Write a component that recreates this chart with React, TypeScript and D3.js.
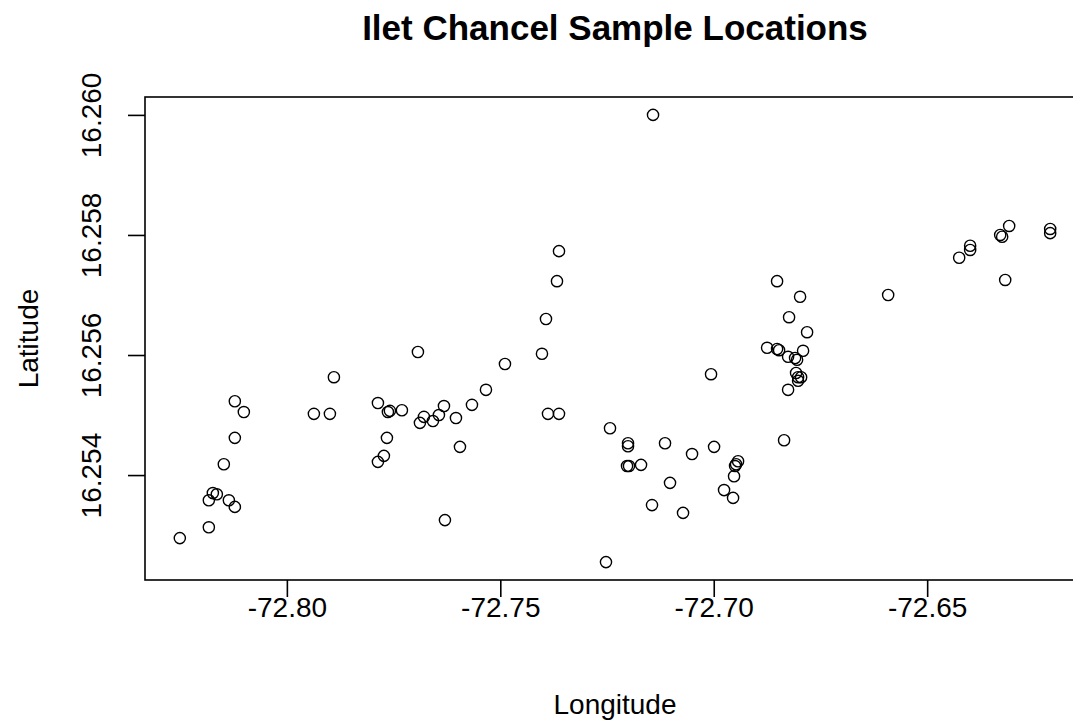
import React, { useEffect, useRef } from "react";
import * as d3 from "d3";

// sample coordinates
const longitude = [
  -72.82508, -72.81828, -72.81828, -72.81734, -72.81641, -72.81359, -72.81219, -72.81477, -72.81219, -72.81219,
  -72.81008, -72.79367, -72.78992, -72.78898, -72.77867, -72.77633, -72.77586, -72.77305, -72.77656, -72.77727,
  -72.77867, -72.7693, -72.76883, -72.76789, -72.76578, -72.76438, -72.7632, -72.76039, -72.75945, -72.75664,
  -72.75336, -72.76297, -72.74891, -72.74024, -72.7393, -72.73672, -72.73625, -72.73883, -72.73625, -72.71422,
  -72.7243, -72.72524, -72.72008, -72.72008, -72.72031, -72.71985, -72.71703, -72.71141, -72.71024, -72.71446,
  -72.70719, -72.70508, -72.69992, -72.69758, -72.69547, -72.69524, -72.695, -72.69477, -72.6943, -72.70063,
  -72.68352, -72.68516, -72.67977, -72.68235, -72.67813, -72.6875, -72.68516, -72.68469, -72.67907, -72.68258,
  -72.68094, -72.68047, -72.68071, -72.68024, -72.67953, -72.68024, -72.68258, -72.65914, -72.6425, -72.63993,
  -72.63993, -72.63289, -72.63243, -72.63079, -72.63172, -72.62118, -72.62118,
];
const latitude = [
  16.25295, 16.25313, 16.25358, 16.2537, 16.25368, 16.25358, 16.25347, 16.25418, 16.25462, 16.25523,
  16.25505, 16.25502, 16.25502, 16.25563, 16.2552, 16.25505, 16.25507, 16.25508, 16.25462, 16.25432,
  16.25422, 16.25605, 16.25487, 16.25497, 16.2549, 16.255, 16.25515, 16.25495, 16.25447, 16.25517,
  16.25542, 16.25325, 16.25585, 16.25602, 16.2566, 16.25723, 16.25773, 16.25502, 16.25502, 16.26,
  16.25478, 16.25255, 16.25453, 16.25448, 16.25415, 16.25415, 16.25417, 16.25453, 16.25387, 16.2535,
  16.25337, 16.25435, 16.25447, 16.25375, 16.25362, 16.25398, 16.25415, 16.25418, 16.25423, 16.25568,
  16.25458, 16.25723, 16.25697, 16.25663, 16.25638, 16.25612, 16.2561, 16.25608, 16.25607, 16.25597,
  16.25595, 16.25592, 16.2557, 16.25563, 16.25563, 16.25557, 16.25542, 16.257, 16.25762, 16.25782,
  16.25775, 16.258, 16.25797, 16.25815, 16.25725, 16.2581, 16.25803,
];

const xTicks = [-72.8, -72.75, -72.7, -72.65];
const yTicks = [16.254, 16.256, 16.258, 16.26];

const title = "Ilet Chancel Sample Locations";
const xTitle = "Longitude";
const yTitle = "Latitude";

const W = 1073;
const H = 724;
const FONT = "'Liberation Sans', Arial, sans-serif";

// R style axis range: data extent padded by 4% each side
const padded = (vals: number[]) => {
  const [lo, hi] = d3.extent(vals) as [number, number];
  const r = hi - lo;
  return [lo - 0.04 * r, hi + 0.04 * r];
};

const App = () => {
  const ref = useRef<SVGSVGElement>(null);

  useEffect(() => {
    const svg = d3.select(ref.current);
    svg.selectAll("*").remove();

    const plot = { left: 145, right: 1085, top: 97, bottom: 580 };

    const x = d3.scaleLinear().domain(padded(longitude)).range([plot.left, plot.right]);
    const y = d3.scaleLinear().domain(padded(latitude)).range([plot.bottom, plot.top]);

    const points = longitude.map((lon, i) => ({ lon, lat: latitude[i] }));

    // points
    svg.append("g")
      .selectAll("circle")
      .data(points)
      .enter().append("circle")
      .attr("cx", d => x(d.lon))
      .attr("cy", d => y(d.lat))
      .attr("r", 5.6)
      .attr("fill", "none")
      .attr("stroke", "#000")
      .attr("stroke-width", 1.4);

    // box
    svg.append("rect")
      .attr("x", plot.left)
      .attr("y", plot.top)
      .attr("width", plot.right - plot.left)
      .attr("height", plot.bottom - plot.top)
      .attr("fill", "none")
      .attr("stroke", "#000")
      .attr("stroke-width", 1.6);

    // x axis (plain hyphen for the minus, like R)
    const gx = svg.append("g")
      .attr("transform", `translate(0, ${plot.bottom})`)
      .call(d3.axisBottom(x).tickValues(xTicks).tickSize(17).tickFormat(d => (+d).toFixed(2)));
    gx.select(".domain").remove();
    gx.selectAll("line").attr("stroke", "#000").attr("stroke-width", 1.6);
    gx.selectAll("text")
      .attr("y", 37)
      .attr("dy", null)
      .attr("fill", "#000")
      .style("font-family", FONT)
      .style("font-size", "28px");

    // y axis, labels turned like R's default
    const gy = svg.append("g")
      .attr("transform", `translate(${plot.left}, 0)`)
      .call(d3.axisLeft(y).tickValues(yTicks).tickSize(17).tickFormat(d => (+d).toFixed(3)));
    gy.select(".domain").remove();
    gy.selectAll("line").attr("stroke", "#000").attr("stroke-width", 1.6);
    gy.selectAll("text")
      .attr("transform", "rotate(-90)")
      .attr("x", 0)
      .attr("y", -44)
      .attr("dy", null)
      .attr("text-anchor", "middle")
      .attr("fill", "#000")
      .style("font-family", FONT)
      .style("font-size", "28px");

    // titles
    svg.append("text")
      .attr("x", (plot.left + plot.right) / 2)
      .attr("y", 40)
      .attr("text-anchor", "middle")
      .style("font-family", FONT)
      .style("font-size", "35px")
      .style("font-weight", "bold")
      .text(title);

    svg.append("text")
      .attr("x", (plot.left + plot.right) / 2)
      .attr("y", 714)
      .attr("text-anchor", "middle")
      .style("font-family", FONT)
      .style("font-size", "28px")
      .text(xTitle);

    svg.append("text")
      .attr("transform", `translate(38, ${(plot.top + plot.bottom) / 2}) rotate(-90)`)
      .attr("text-anchor", "middle")
      .style("font-family", FONT)
      .style("font-size", "28px")
      .text(yTitle);
  }, []);

  return (
    <svg
      ref={ref}
      width={W}
      height={H}
      style={{ position: "absolute", left: 0, top: 0, background: "#fff" }}
    />
  );
};

export default App;
